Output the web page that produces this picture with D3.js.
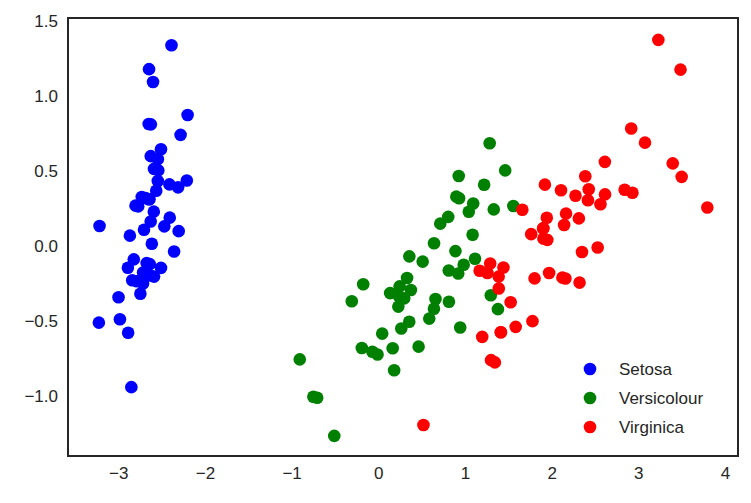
<!DOCTYPE html>
<html><head><meta charset="utf-8">
<script src="https://cdn.jsdelivr.net/npm/d3@7"></script>
<style>body{margin:0;background:#fff}</style></head>
<body><div id="chart"></div>
<script>
  const names = ["Setosa", "Versicolour", "Virginica"];
  const colors = ["blue", "green", "red"];
  const xTicks = [-3, -2, -1, 0, 1, 2, 3, 4];
  const yTicks = [-1.0, -0.5, 0.0, 0.5, 1.0, 1.5];

  const setosa = [[-2.684,0.319],[-2.714,-0.177],[-2.889,-0.145],[-2.745,-0.318],[-2.729,0.327],[-2.281,0.741],[-2.821,-0.089],[-2.626,0.163],[-2.886,-0.578],[-2.673,-0.114],[-2.507,0.645],[-2.613,0.015],[-2.786,-0.235],[-3.224,-0.511],[-2.645,1.179],[-2.386,1.338],[-2.624,0.811],[-2.648,0.312],[-2.200,0.873],[-2.588,0.514],[-2.310,0.391],[-2.544,0.433],[-3.216,0.133],[-2.303,0.099],[-2.356,-0.037],[-2.507,-0.146],[-2.469,0.131],[-2.562,0.368],[-2.640,0.312],[-2.632,-0.197],[-2.587,-0.204],[-2.410,0.411],[-2.649,0.813],[-2.599,1.093],[-2.637,-0.121],[-2.866,0.069],[-2.625,0.599],[-2.801,0.269],[-2.981,-0.488],[-2.590,0.229],[-2.770,0.264],[-2.849,-0.941],[-2.997,-0.342],[-2.406,0.189],[-2.209,0.437],[-2.714,-0.250],[-2.538,0.504],[-2.839,-0.228],[-2.543,0.579],[-2.703,0.108]];
  const versicolour = [[1.285,0.685],[0.932,0.318],[1.464,0.504],[0.183,-0.828],[1.088,0.075],[0.642,-0.418],[1.095,0.283],[-0.749,-1.005],[1.044,0.228],[-0.009,-0.723],[-0.508,-1.266],[0.512,-0.104],[0.265,-0.550],[0.985,-0.125],[-0.174,-0.255],[0.928,0.467],[0.660,-0.353],[0.236,-0.334],[0.945,-0.543],[0.045,-0.584],[1.116,-0.085],[0.358,-0.069],[1.298,-0.328],[0.922,-0.183],[0.715,0.149],[0.900,0.329],[1.332,0.244],[1.558,0.267],[0.813,-0.163],[-0.306,-0.368],[-0.068,-0.705],[-0.190,-0.680],[0.136,-0.314],[1.380,-0.421],[0.588,-0.484],[0.807,0.194],[1.221,0.408],[0.815,-0.372],[0.246,-0.269],[0.166,-0.682],[0.465,-0.671],[0.890,-0.034],[0.231,-0.404],[-0.705,-1.012],[0.357,-0.505],[0.332,-0.213],[0.376,-0.293],[0.643,0.018],[-0.906,-0.756],[0.299,-0.349]];
  const virginica = [[2.531,-0.010],[1.414,-0.575],[2.616,0.344],[1.971,-0.180],[2.350,-0.040],[3.397,0.551],[0.521,-1.193],[2.932,0.355],[2.322,-0.244],[2.918,0.783],[1.662,0.242],[1.803,-0.216],[2.166,0.216],[1.345,-0.776],[1.585,-0.539],[1.905,0.119],[1.950,0.041],[3.487,1.176],[3.796,0.257],[1.301,-0.761],[2.428,0.378],[1.199,-0.606],[3.500,0.461],[1.389,-0.204],[2.275,0.335],[2.614,0.561],[1.259,-0.180],[1.291,-0.117],[2.124,-0.211],[2.388,0.465],[2.842,0.375],[3.231,1.374],[2.159,-0.217],[1.444,-0.143],[1.779,-0.501],[3.077,0.689],[2.144,0.140],[1.905,0.049],[1.169,-0.165],[2.108,0.372],[2.314,0.184],[1.922,0.409],[1.414,-0.575],[2.563,0.278],[2.419,0.305],[1.944,0.188],[1.527,-0.375],[1.764,0.079],[1.901,0.117],[1.390,-0.283]];
  const groups = [setosa, versicolour, virginica];

  const width = 751, height = 503;
  const margin = { top: 18, right: 13, bottom: 47, left: 68 };

  const svg = d3.select("#chart").append("svg")
    .attr("width", width).attr("height", height)
    .style("font-family", "Arial, 'Liberation Sans', sans-serif");

  const x = d3.scaleLinear().domain([-3.58, 4.15]).range([margin.left, width - margin.right]);
  const y = d3.scaleLinear().domain([-1.40, 1.52]).range([height - margin.bottom, margin.top]);

  // points
  groups.forEach((pts, i) => {
    svg.append("g").selectAll("circle")
      .data(pts).enter().append("circle")
      .attr("cx", d => x(d[0]))
      .attr("cy", d => y(d[1]))
      .attr("r", 6.3)
      .attr("fill", colors[i]);
  });

  // axes
  svg.append("g")
    .attr("transform", `translate(0,${height - margin.bottom})`)
    .call(d3.axisBottom(x).tickValues(xTicks).tickSize(0).tickPadding(11)
      .tickFormat(d => d < 0 ? "\u2212" + Math.abs(d) : d))
    .call(g => g.select(".domain").remove())
    .call(g => g.selectAll("text").attr("font-size", 17).attr("fill", "#262626"));

  svg.append("g")
    .attr("transform", `translate(${margin.left},0)`)
    .call(d3.axisLeft(y).tickValues(yTicks).tickSize(0).tickPadding(10)
      .tickFormat(d => (d < 0 ? "\u2212" : "") + Math.abs(d).toFixed(1)))
    .call(g => g.select(".domain").remove())
    .call(g => g.selectAll("text").attr("font-size", 17).attr("fill", "#262626"));

  // frame
  svg.append("rect")
    .attr("x", margin.left).attr("y", margin.top)
    .attr("width", width - margin.left - margin.right)
    .attr("height", height - margin.top - margin.bottom)
    .attr("fill", "none").attr("stroke", "#262626").attr("stroke-width", 2);

  // legend
  const legend = svg.append("g");
  names.forEach((n, i) => {
    const ly = 369 + i * 29;
    legend.append("circle").attr("cx", 590).attr("cy", ly).attr("r", 6.3).attr("fill", colors[i]);
    legend.append("text").attr("x", 619).attr("y", ly).attr("dy", "0.35em")
      .attr("font-size", 17).attr("fill", "#262626").text(n);
  });
</script>
</body></html>
